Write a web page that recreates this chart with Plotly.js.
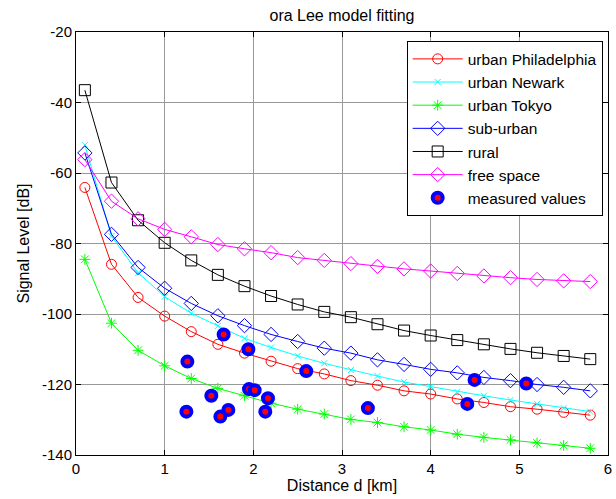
<!DOCTYPE html>
<html>
<head>
<meta charset="utf-8">
<script src="https://cdn.plot.ly/plotly-3.0.1.min.js"></script>
<style>html,body{margin:0;padding:0;background:#fff;}#chart{width:616px;height:499px;}</style>
</head>
<body>
<div id="chart"></div>
<script>
var distance = [0.1, 0.4, 0.7, 1.0, 1.3, 1.6, 1.9, 2.2, 2.5, 2.8, 3.1, 3.4, 3.7, 4.0, 4.3, 4.6, 4.9, 5.2, 5.5, 5.8];
var philadelphia = [-64.1, -85.9, -95.3, -100.6, -105.0, -108.6, -111.1, -113.4, -115.5, -117.0, -118.9, -120.2, -121.8, -122.7, -124.1, -125.1, -126.3, -127.0, -127.9, -128.7];
var newark = [-52.1, -77.9, -88.3, -95.1, -99.8, -103.4, -106.9, -109.5, -111.9, -114.0, -115.9, -117.6, -119.3, -120.6, -122.1, -123.2, -124.4, -125.5, -126.7, -127.7];
var tokyo = [-84.5, -102.6, -110.3, -114.7, -118.3, -121.1, -123.2, -125.3, -127.0, -128.4, -129.9, -130.8, -132.0, -132.9, -134.1, -135.0, -135.7, -136.6, -137.3, -138.1];
var suburban = [-54.3, -77.4, -86.8, -92.7, -97.0, -100.5, -103.3, -105.8, -107.8, -109.7, -111.1, -113.0, -114.3, -115.7, -116.7, -118.0, -118.9, -120.0, -120.8, -121.8];
var rural = [-36.5, -62.7, -73.4, -79.8, -84.8, -88.9, -92.1, -94.9, -97.3, -99.4, -100.9, -102.9, -104.7, -106.1, -107.4, -108.6, -109.9, -111.0, -111.9, -112.8];
var freeSpace = [-56.2, -68.0, -73.0, -76.0, -78.1, -80.3, -81.5, -82.6, -84.0, -84.8, -85.7, -86.5, -87.2, -87.8, -88.5, -89.2, -89.7, -90.2, -90.6, -90.8];
var measuredD = [1.256, 1.245, 1.526, 1.628, 1.718, 1.665, 1.944, 1.951, 2.015, 2.165, 2.135, 2.597, 3.292, 4.495, 4.413, 5.078];
var measuredP = [-113.5, -127.7, -123.2, -129.1, -127.2, -105.8, -110.0, -121.3, -121.6, -123.9, -127.7, -116.2, -126.7, -118.7, -125.5, -119.7];
var xTickVals = [0, 1, 2, 3, 4, 5, 6];
var xTickText = ['0', '1', '2', '3', '4', '5', '6'];
var yTickVals = [-140, -120, -100, -80, -60, -40, -20];
var yTickText = ['-140', '-120', '-100', '-80', '-60', '-40', '-20'];

function model(name, y, color, symbol, size) {
  return {
    x: distance, y: y, name: name, type: 'scatter', mode: 'lines+markers',
    line: {color: color, width: 1},
    marker: {color: color, symbol: symbol, size: size, line: {color: color, width: 1}}
  };
}
var traces = [
  model('urban Philadelphia', philadelphia, '#ff0000', 'circle-open', 10),
  model('urban Newark', newark, '#00ffff', 'x-thin-open', 6),
  model('urban Tokyo', tokyo, '#00ff00', 'asterisk-open', 9),
  model('sub-urban', suburban, '#0000ff', 'diamond-open', 11),
  model('rural', rural, '#000000', 'square-open', 11),
  model('free space', freeSpace, '#ff00ff', 'diamond-open', 11),
  {
    x: measuredD, y: measuredP, name: 'measured values', type: 'scatter', mode: 'markers',
    marker: {color: '#ff0000', symbol: 'circle', size: 10, line: {color: '#0000ff', width: 4}}
  }
];

var FONT = 'Arial, "Liberation Sans", sans-serif';
var axisCommon = {
  showline: true, linecolor: '#000', linewidth: 1, mirror: 'ticks',
  ticks: 'inside', ticklen: 5, tickcolor: '#000', tickmode: 'array',
  showgrid: true, gridcolor: '#999999', gridwidth: 1, zeroline: false,
  tickfont: {family: FONT, size: 15, color: '#000'}
};

var layout = {
  width: 616, height: 499,
  margin: {l: 76, r: 8, t: 31.5, b: 44},
  paper_bgcolor: '#fff', plot_bgcolor: '#fff',
  font: {family: FONT, size: 15, color: '#000'},
  title: {text: 'ora Lee model fitting', x: 0.5, xanchor: 'center', xref: 'paper', y: 0.970, yref: 'container', yanchor: 'middle', font: {size: 16}},
  xaxis: Object.assign({}, axisCommon, {range: [0, 6], tickvals: xTickVals, ticktext: xTickText, title: {text: 'Distance d [km]', standoff: 3, font: {size: 16}}}),
  yaxis: Object.assign({}, axisCommon, {range: [-140, -20], tickvals: yTickVals, ticktext: yTickText, title: {text: 'Signal Level [dB]', standoff: 8, font: {size: 16}}}),
  showlegend: true,
  legend: {
    x: 0.99, xanchor: 'right', y: 0.978, yanchor: 'top',
    bgcolor: '#fff', bordercolor: '#000', borderwidth: 1,
    font: {family: FONT, size: 15.5, color: '#000'},
    itemwidth: 50
  }
};

Plotly.newPlot('chart', traces, layout, {displayModeBar: false, staticPlot: true});
</script>
</body>
</html>
